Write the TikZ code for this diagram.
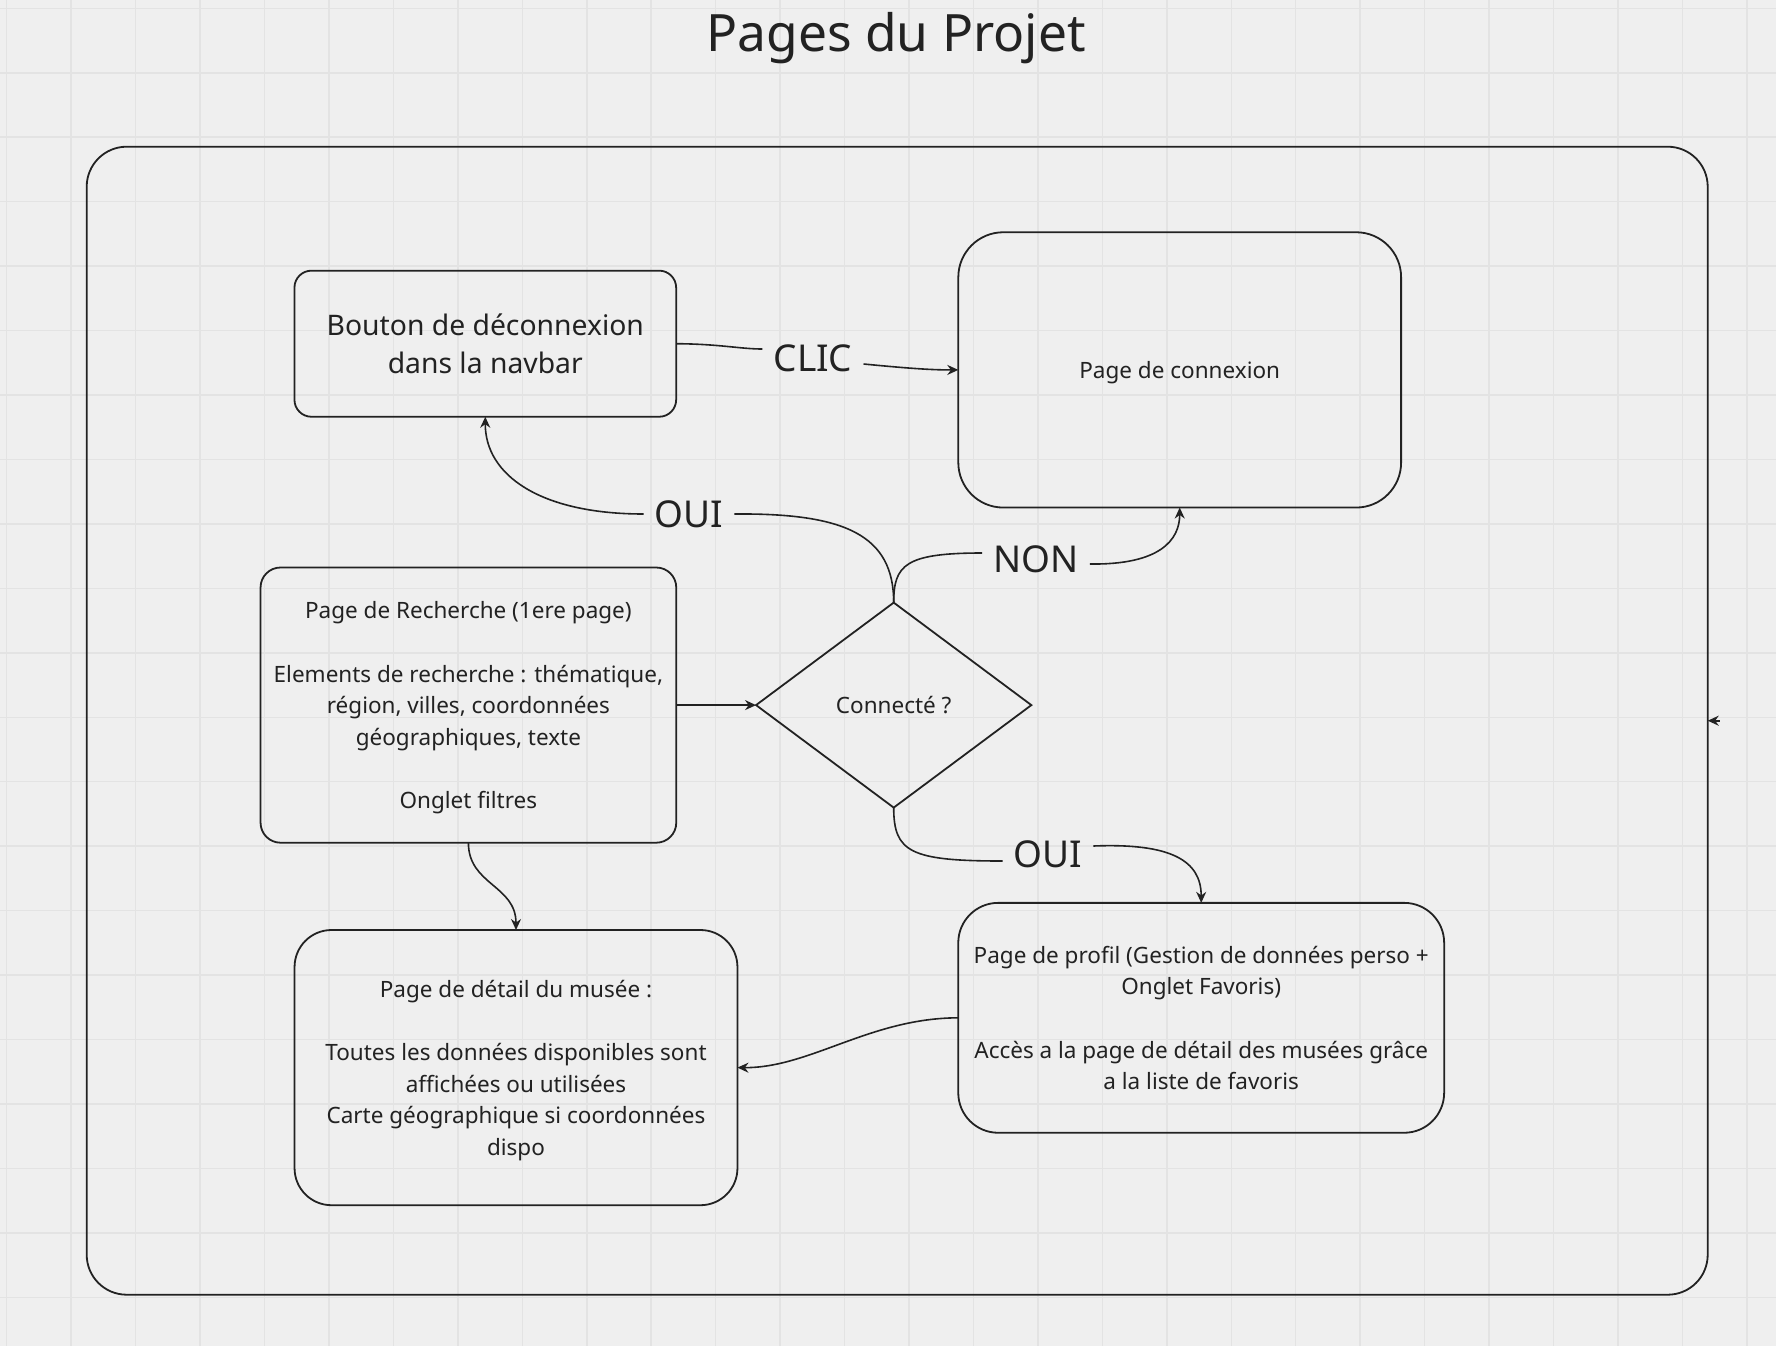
\documentclass[tikz,border=0pt]{standalone}
\usepackage{fontspec}
\setmainfont{Noto Sans}
\usetikzlibrary{shapes.geometric,arrows.meta}
\definecolor{bg}{HTML}{EFEFEF}
\definecolor{gridc}{HTML}{E3E3E3}
\definecolor{ink}{HTML}{222222}
\newcommand\smalltxt{\fontsize{22.5}{31.7}\selectfont}
\newcommand\bigtxt{\fontsize{28.3}{38.5}\selectfont}
\newcommand\lbltxt{\fontsize{37}{44}\selectfont}
\newcommand\titletxt{\fontsize{51.5}{60}\selectfont}
\newcommand\topst{\rule{0pt}{1.069em}}
\newcommand\botst{\rule[-0.293em]{0pt}{0.293em}}
\begin{document}
\begin{tikzpicture}[x=1pt,y=-1pt,
  box/.style={draw=ink,line width=1.8pt,align=center,inner sep=0pt,outer sep=0pt,text=ink,font=\smalltxt},
  lbl/.style={text=ink,font=\lbltxt,inner xsep=11pt,inner ysep=0pt},
  link/.style={draw=ink,line width=1.6pt},
  arr/.style={-{Stealth[length=11pt,width=10pt]}}]
\useasboundingbox (0,0) rectangle (1776,1346);
\fill[bg] (0,0) rectangle (1776,1346);
\foreach \i in {0,...,27} \draw[gridc,line width=1.5pt] ({6.7+64.45*\i},0) -- ({6.7+64.45*\i},1346);
\foreach \i in {0,...,20} \draw[gridc,line width=1.5pt] (0,{8.3+64.45*\i}) -- (1776,{8.3+64.45*\i});

\node[text=ink,font=\titletxt,inner sep=0pt,anchor=base] (title) at (896,52) {Pages du Projet};

\node[box,rounded corners=40pt,minimum width=1621pt,minimum height=1148pt] (frame) at (897.2,720.7) {};

\node[box,rounded corners=17pt,minimum width=381.7pt,minimum height=146.1pt,font=\bigtxt] (bouton) at (485.3,343.7) {\topst Bouton de déconnexion\\dans la navbar\botst};
\node[box,rounded corners=45pt,minimum width=442.8pt,minimum height=275.3pt] (connexion) at (1179.7,369.9) {\topst Page de connexion\botst};
\node[box,rounded corners=20pt,minimum width=415.7pt,minimum height=275.2pt] (rech) at (468.4,705.1) {\topst Page de Recherche (1ere page)\\[31.7pt]Elements de recherche : thématique,\\région, villes, coordonnées\\géographiques, texte\\[31.7pt]Onglet filtres\botst};
\node[box,shape=diamond,minimum width=275.3pt,minimum height=205pt] (dia) at (893.7,705.1) {\topst Connecté ?\botst};
\node[box,rounded corners=40pt,minimum width=485.9pt,minimum height=229.9pt] (profil) at (1201.2,1017.8) {\topst Page de profil (Gestion de données perso +\\Onglet Favoris)\\[31.7pt]Accès a la page de détail des musées grâce\\a la liste de favoris\botst};
\node[box,rounded corners=37pt,minimum width=442.9pt,minimum height=275.2pt] (detail) at (516,1067.6) {\topst Page de détail du musée :\\[31.7pt]Toutes les données disponibles sont\\affichées ou utilisées\\Carte géographique si coordonnées\\dispo\botst};

\node[lbl] (clic) at (813,358) {CLIC};
\node[lbl] (oui1) at (689,514) {OUI};
\node[lbl] (non) at (1036,559) {NON};
\node[lbl] (oui2) at (1048,854) {OUI};

\draw[link] (bouton.east) .. controls (720,344) and (740,349) .. ([yshift=9pt]clic.west);
\draw[link,arr] ([yshift=-6pt]clic.east) .. controls (905,368) and (930,370) .. (connexion.west);

\draw[link] (dia.north) .. controls (893.7,535) and (845,513) .. (oui1.east);
\draw[link,arr] (oui1.west) .. controls (540,514) and (485,475) .. (bouton.south);

\draw[link] (dia.north) .. controls (893.7,565) and (905,553) .. ([yshift=6pt]non.west);
\draw[link,arr] ([yshift=-5pt]non.east) .. controls (1160,565) and (1179.7,540) .. (connexion.south);

\draw[link] (dia.south) .. controls (893.7,852) and (910,861) .. ([yshift=-7pt]oui2.west);
\draw[link,arr] ([yshift=8pt]oui2.east) .. controls (1170,843) and (1201.2,860) .. (profil.north);

\draw[link,arr] (rech.east) -- (dia.west);
\draw[link,arr] (rech.south) .. controls (468.4,885) and (516,885) .. (detail.north);
\draw[link,arr] (profil.west) .. controls (870,1018) and (810,1068) .. (detail.east);
\draw[link,arr] ([xshift=12pt]frame.east) -- (frame.east);
\end{tikzpicture}
\end{document}
